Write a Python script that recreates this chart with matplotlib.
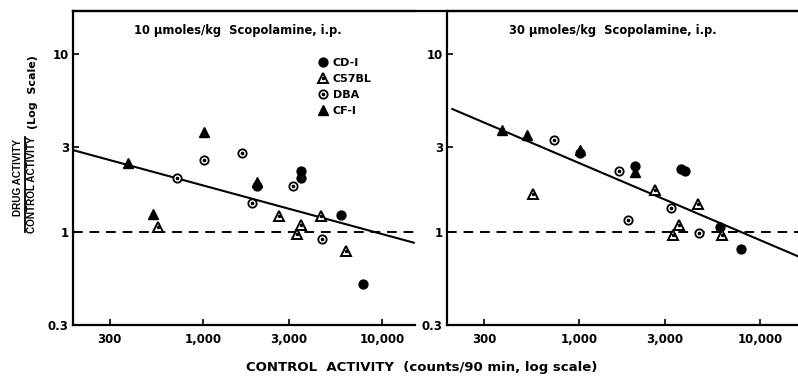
import matplotlib
matplotlib.use("Agg")
import matplotlib.pyplot as plt
from matplotlib.lines import Line2D
from matplotlib.legend_handler import HandlerTuple
from matplotlib.ticker import FixedLocator, FixedFormatter, NullLocator

plt.rcParams['font.family'] = ['DejaVu Sans']
plt.rcParams['font.weight'] = 'bold'

# ---------------- data ----------------
panel_titles = ["10 \u03bcmoles/kg  Scopolamine, i.p.", "30 \u03bcmoles/kg  Scopolamine, i.p."]
strains = ["CD-I", "C57BL", "DBA", "CF-I"]

x_ticks = [300, 1000, 3000, 10000]
x_ticklabels = ["300", "1,000", "3,000", "10,000"]
y_ticks = [0.3, 1, 3, 10]
y_ticklabels = ["0.3", "1", "3", "10"]

# 10 umol/kg panel
l_cd1_x = [2000, 3500, 3500, 5900, 7800]
l_cd1_y = [1.81, 2.19, 2.01, 1.24, 0.51]
l_c57_x = [560, 2660, 3320, 3520, 4530, 6240]
l_c57_y = [1.07, 1.23, 0.97, 1.09, 1.23, 0.78]
l_dba_x = [716, 1013, 1652, 1879, 3185, 4580]
l_dba_y = [2.01, 2.54, 2.77, 1.45, 1.81, 0.91]
l_cf1_x = [381, 526, 1009, 2004]
l_cf1_y = [2.44, 1.26, 3.64, 1.90]
l_fit_x = [187, 15000]
l_fit_y = [2.88, 0.87]

# 30 umol/kg panel
r_cd1_x = [1013, 2036, 3670, 3880, 6000, 7830]
r_cd1_y = [2.79, 2.33, 2.25, 2.19, 1.07, 0.80]
r_c57_x = [557, 2643, 3302, 3564, 4538, 6180]
r_c57_y = [1.63, 1.73, 0.96, 1.09, 1.43, 0.96]
r_dba_x = [726, 1668, 1880, 3227, 4603]
r_dba_y = [3.29, 2.19, 1.17, 1.36, 0.99]
r_cf1_x = [375, 517, 1013, 2036]
r_cf1_y = [3.74, 3.51, 2.90, 2.17]
r_fit_x = [200, 16200]
r_fit_y = [4.9, 0.73]

baseline = 1.0
x_lim = (187, 15240)
x_lim_r = (187, 16230)
y_lim = (0.3, 17.4)

# ---------------- figure ----------------
fig = plt.figure(figsize=(7.98, 3.76), dpi=100)
W, H = 798, 376
def rect(x0, y0, x1, y1):
    return [x0 / W, 1 - y1 / H, (x1 - x0) / W, (y1 - y0) / H]

axL = fig.add_axes(rect(73, 11, 415, 325))
axR = fig.add_axes(rect(447, 11, 798, 325))

K = 'black'
ms_fill_c = 6.4
ms_fill_t = 7.8
ms_open_t = 7.5
ms_open_c = 6.0

def draw_panel(ax, cd1x, cd1y, c57x, c57y, dbax, dbay, cf1x, cf1y, fitx, fity, xl):
    ax.set_xscale('log')
    ax.set_yscale('log')
    ax.set_xlim(*xl)
    ax.set_ylim(*y_lim)
    ax.axhline(baseline, color=K, lw=1.4, ls=(0, (5, 3.5)), zorder=1)
    ax.plot(fitx, fity, color=K, lw=1.5, zorder=2)
    ax.plot(dbax, dbay, ls='none', marker='o', ms=ms_open_c, mfc='white', mec=K, mew=1.3, zorder=3)
    ax.plot(dbax, dbay, ls='none', marker='o', ms=1.6, mfc=K, mec=K, zorder=4)
    ax.plot(c57x, c57y, ls='none', marker='^', ms=ms_open_t, mfc='white', mec=K, mew=1.4, zorder=3)
    ax.plot(c57x, c57y, ls='none', marker='o', ms=1.5, mfc=K, mec=K, zorder=4)
    ax.plot(cd1x, cd1y, ls='none', marker='o', ms=ms_fill_c, mfc=K, mec=K, zorder=5)
    ax.plot(cf1x, cf1y, ls='none', marker='^', ms=ms_fill_t, mfc=K, mec=K, zorder=5)
    ax.xaxis.set_major_locator(FixedLocator(x_ticks))
    ax.xaxis.set_major_formatter(FixedFormatter(x_ticklabels))
    ax.yaxis.set_major_locator(FixedLocator(y_ticks))
    ax.yaxis.set_major_formatter(FixedFormatter(y_ticklabels))
    ax.xaxis.set_minor_locator(NullLocator())
    ax.yaxis.set_minor_locator(NullLocator())
    ax.tick_params(direction='in', length=4, width=1.2, labelsize=8.5, pad=3)
    ax.tick_params(axis='x', pad=6)
    for s in ax.spines.values():
        s.set_linewidth(1.6)
    ax.spines['right'].set_visible(False)

draw_panel(axL, l_cd1_x, l_cd1_y, l_c57_x, l_c57_y, l_dba_x, l_dba_y, l_cf1_x, l_cf1_y, l_fit_x, l_fit_y, x_lim)
draw_panel(axR, r_cd1_x, r_cd1_y, r_c57_x, r_c57_y, r_dba_x, r_dba_y, r_cf1_x, r_cf1_y, r_fit_x, r_fit_y, x_lim_r)

axL.text(0.481, 0.939, panel_titles[0], transform=axL.transAxes, ha='center', va='center', fontsize=8.3)
axR.text(0.4715, 0.939, panel_titles[1], transform=axR.transAxes, ha='center', va='center', fontsize=8.3)

# top border bridging the panels
fig.add_artist(Line2D([73 / W, 1.0], [1 - 11 / H, 1 - 11 / H], color=K, lw=1.6, transform=fig.transFigure))

# legend
h_cd1 = Line2D([], [], ls='none', marker='o', ms=ms_fill_c, mfc=K, mec=K)
h_c57 = (Line2D([], [], ls='none', marker='^', ms=ms_open_t, mfc='white', mec=K, mew=1.4),
         Line2D([], [], ls='none', marker='o', ms=1.5, mfc=K, mec=K))
h_dba = (Line2D([], [], ls='none', marker='o', ms=ms_open_c, mfc='white', mec=K, mew=1.3),
         Line2D([], [], ls='none', marker='o', ms=1.6, mfc=K, mec=K))
h_cf1 = Line2D([], [], ls='none', marker='^', ms=ms_fill_t, mfc=K, mec=K)
axL.legend([h_cd1, h_c57, h_dba, h_cf1], strains, handler_map={tuple: HandlerTuple(ndivide=1, pad=0)},
           loc='upper left', bbox_to_anchor=(0.714, 0.85), frameon=False, fontsize=8,
           handlelength=1.0, handletextpad=0.4, labelspacing=0.53, borderpad=0, borderaxespad=0)

# axis labels
fig.text(422 / W, 1 - 367 / H, "CONTROL  ACTIVITY  (counts/90 min, log scale)", ha='center', va='center', fontsize=9.5)
yfam = ['Liberation Sans', 'DejaVu Sans']
fig.text(18 / W, 1 - 178 / H, "DRUG ACTIVITY", rotation=90, ha='center', va='center', fontsize=7.2,
         family=yfam, fontweight='bold')
fig.text(32 / W, 1 - 185 / H, "CONTROL ACTIVITY", rotation=90, ha='center', va='center', fontsize=7.2,
         family=yfam, fontweight='bold')
fig.add_artist(Line2D([25 / W, 25 / W], [1 - 137 / H, 1 - 232 / H], color=K, lw=1.3, transform=fig.transFigure))
fig.text(33 / W, 1 - 92 / H, "(Log  Scale)", rotation=90, ha='center', va='center', fontsize=8.0)

fig.savefig("out.png", dpi=100)
